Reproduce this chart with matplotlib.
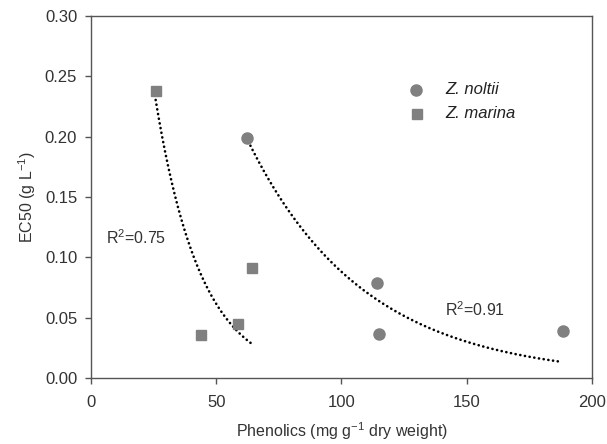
import numpy as np
import matplotlib
matplotlib.use("Agg")
import matplotlib.pyplot as plt

plt.rcParams["font.family"] = ["Liberation Sans", "DejaVu Sans"]
plt.rcParams["mathtext.fontset"] = "custom"
plt.rcParams["mathtext.rm"] = "Liberation Sans"
plt.rcParams["mathtext.it"] = "Liberation Sans:italic"

# -------------------------
# data
# -------------------------
noltii_x = [62.4, 114.2, 115.0, 188.4]
noltii_y = [0.199, 0.079, 0.036, 0.039]

marina_x = [25.9, 43.9, 58.7, 64.4]
marina_y = [0.238, 0.0356, 0.0448, 0.0914]

# exponential trend lines y = a * exp(b * (x - x0))
marina_fit = dict(x0=25.8, x1=64.1, a=0.2304, b=-0.0547)
noltii_fit = dict(x0=62.8, x1=187.0, a=0.196, b=-0.02154)

grey = "#808080"
axc = "#555555"
txt = "#333333"

fig = plt.figure(figsize=(6.07, 4.44), dpi=100)
ax = fig.add_axes([0.150, 0.149, 0.825, 0.815])

for fit in (marina_fit, noltii_fit):
    xs = np.linspace(fit["x0"], fit["x1"], 300)
    ys = fit["a"] * np.exp(fit["b"] * (xs - fit["x0"]))
    ax.plot(xs, ys, color="black", lw=1.9, linestyle=(0, (0.05, 1.75)),
            dash_capstyle="round", zorder=2)

ax.plot(noltii_x, noltii_y, "o", color=grey, ms=8, mec=grey, zorder=3)
ax.plot(marina_x, marina_y, "s", color=grey, ms=7.4, mec=grey, zorder=3)

# legend drawn by hand (no frame)
ax.plot([129.6], [0.239], "o", color=grey, ms=8, zorder=3)
ax.plot([130.0], [0.219], "s", color=grey, ms=7.0, zorder=3)
ax.text(141.5, 0.239, "Z. noltii", style="italic", fontsize=12,
        color="#222222", va="center")
ax.text(141.5, 0.219, "Z. marina", style="italic", fontsize=12,
        color="#222222", va="center")

ax.text(6.0, 0.116, "R$^2$=0.75", fontsize=11.5, color=txt, va="center")
ax.text(141.5, 0.0565, "R$^2$=0.91", fontsize=11.5, color=txt, va="center")

ax.set_xlim(0, 200)
ax.set_ylim(0, 0.30)
ax.set_xticks([0, 50, 100, 150, 200])
ax.set_yticks([0.00, 0.05, 0.10, 0.15, 0.20, 0.25, 0.30])
ax.set_yticklabels(["0.00", "0.05", "0.10", "0.15", "0.20", "0.25", "0.30"])

for s in ax.spines.values():
    s.set_color(axc)
    s.set_linewidth(1.0)
ax.tick_params(direction="out", length=4, width=1.0, color=axc,
               labelsize=12, labelcolor=txt)
ax.tick_params(axis="y", pad=6)
ax.tick_params(axis="x", pad=8)

ax.set_xlabel("Phenolics (mg g$^{-1}$ dry weight)", fontsize=11.5,
              color=txt, labelpad=8)
ax.set_ylabel("EC50 (g L$^{-1}$)", fontsize=11.5, color=txt, labelpad=5)

fig.savefig("out.png", dpi=100)
